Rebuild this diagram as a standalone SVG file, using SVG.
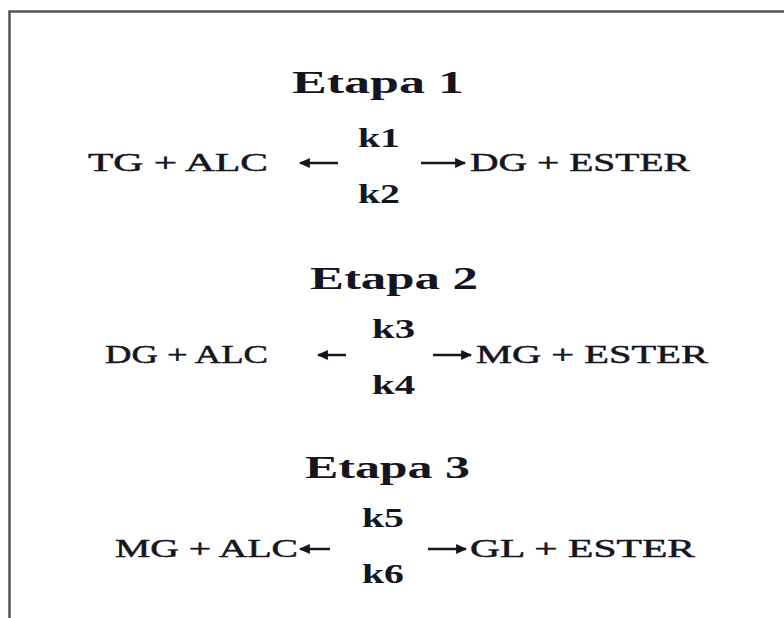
<svg xmlns="http://www.w3.org/2000/svg" width="784" height="618" viewBox="0 0 784 618">
<style>
.t{font-family:"Liberation Serif","Times New Roman",serif;fill:#15151f;font-weight:bold;font-size:32px}
.r{font-family:"Liberation Serif","Times New Roman",serif;fill:#15151f;font-size:26px;stroke:#15151f;stroke-width:0.5}
.k{font-family:"Liberation Serif","Times New Roman",serif;fill:#15151f;font-weight:bold;font-size:28px}
.a{stroke:#15151f;stroke-width:2.5;fill:none}
</style>
<defs>
<marker id="ah" viewBox="0 0 10 10" refX="9" refY="5" markerWidth="5" markerHeight="4.4" orient="auto" markerUnits="strokeWidth">
<path d="M0,0.5 L10,5 L0,9.5 Z" fill="#15151f"/>
</marker>
</defs>
<rect width="784" height="618" fill="#ffffff"/>
<path d="M9.5,618 V11.5 H784" fill="none" stroke="#555" stroke-width="2.5"/>

<g id="etapa1">
<text class="t" x="292" y="93" textLength="172" lengthAdjust="spacingAndGlyphs">Etapa 1</text>
<text class="r" x="88" y="171" textLength="180" lengthAdjust="spacingAndGlyphs">TG + ALC</text>
<text class="k" x="358" y="147" textLength="42" lengthAdjust="spacingAndGlyphs">k1</text>
<text class="k" x="358" y="203" textLength="42" lengthAdjust="spacingAndGlyphs">k2</text>
<text class="r" x="470" y="171" textLength="220" lengthAdjust="spacingAndGlyphs">DG + ESTER</text>
</g>

<g id="etapa2">
<text class="t" x="310" y="289" textLength="168" lengthAdjust="spacingAndGlyphs">Etapa 2</text>
<text class="r" x="105" y="363" textLength="163" lengthAdjust="spacingAndGlyphs">DG + ALC</text>
<text class="k" x="372" y="338" textLength="43" lengthAdjust="spacingAndGlyphs">k3</text>
<text class="k" x="372" y="394" textLength="43" lengthAdjust="spacingAndGlyphs">k4</text>
<text class="r" x="476" y="363" textLength="232" lengthAdjust="spacingAndGlyphs">MG + ESTER</text>
</g>

<g id="etapa3">
<text class="t" x="305" y="478" textLength="165" lengthAdjust="spacingAndGlyphs">Etapa 3</text>
<text class="r" x="115" y="557" textLength="183" lengthAdjust="spacingAndGlyphs">MG + ALC</text>
<text class="k" x="362" y="527" textLength="42" lengthAdjust="spacingAndGlyphs">k5</text>
<text class="k" x="362" y="583" textLength="42" lengthAdjust="spacingAndGlyphs">k6</text>
<text class="r" x="470" y="557" textLength="225" lengthAdjust="spacingAndGlyphs">GL + ESTER</text>
</g>

<g id="connectors">
<line class="a" x1="338" y1="163" x2="300" y2="163" marker-end="url(#ah)"/>
<line class="a" x1="421" y1="163" x2="465" y2="163" marker-end="url(#ah)"/>
<line class="a" x1="346" y1="355" x2="318" y2="355" marker-end="url(#ah)"/>
<line class="a" x1="433" y1="355" x2="471" y2="355" marker-end="url(#ah)"/>
<line class="a" x1="330" y1="549" x2="300" y2="549" marker-end="url(#ah)"/>
<line class="a" x1="428" y1="549" x2="466" y2="549" marker-end="url(#ah)"/>
</g>
</svg>
